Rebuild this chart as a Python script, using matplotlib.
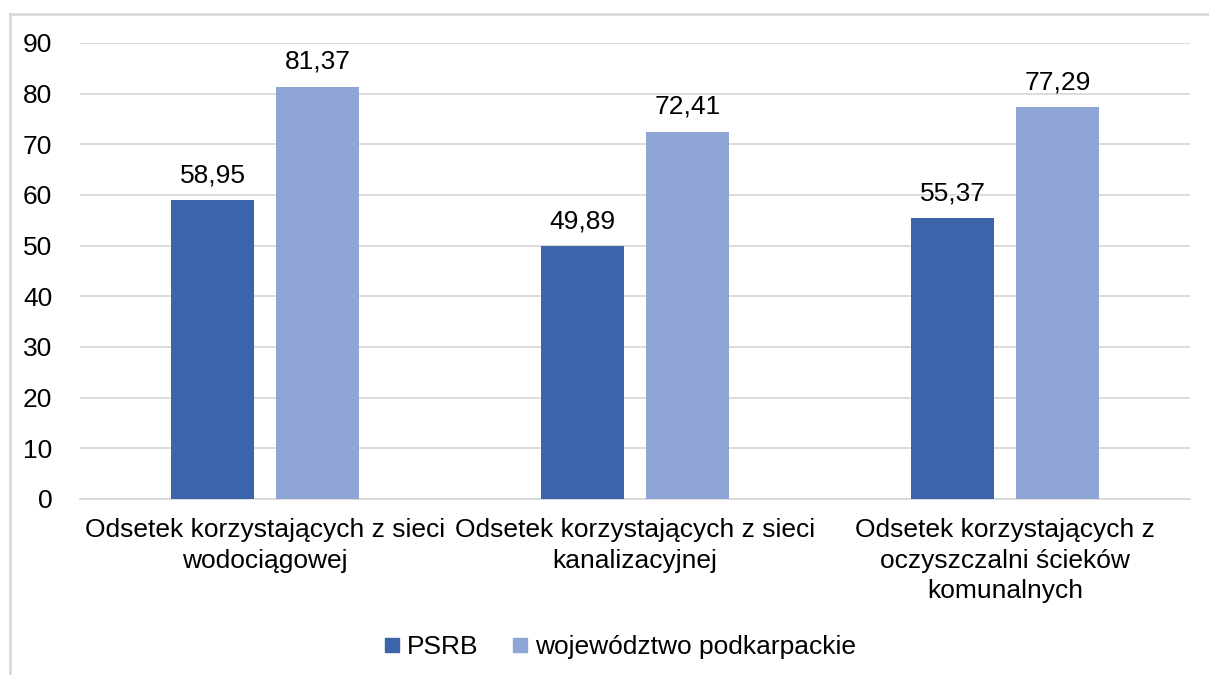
import matplotlib
matplotlib.use('Agg')
import matplotlib.pyplot as plt
import numpy as np
from matplotlib.lines import Line2D

plt.rcParams['font.family'] = ['Liberation Sans', 'DejaVu Sans']

categories = [
    'Odsetek korzystających z sieci\nwodociągowej',
    'Odsetek korzystających z sieci\nkanalizacyjnej',
    'Odsetek korzystających z\noczyszczalni ścieków\nkomunalnych',
]
psrb = [58.95, 49.89, 55.37]
podkarpackie = [81.37, 72.41, 77.29]
series_names = ['PSRB', 'województwo podkarpackie']
yticks = list(range(0, 100, 10))

dark = '#3C64AB'
light = '#8FA5D5'
grid_col = '#D9D9D9'
fs = 19

W, H = 1209, 675
fig = plt.figure(figsize=(W / 100, H / 100), dpi=100)
ax = fig.add_axes([80 / W, 1 - 499 / H, 1110 / W, 456 / H])

x = np.arange(len(categories))
bw = 0.224
off = 0.142
b1 = ax.bar(x - off, psrb, bw, color=dark, zorder=3)
b2 = ax.bar(x + off, podkarpackie, bw, color=light, zorder=3)

for bars, vals in ((b1, psrb), (b2, podkarpackie)):
    for r, v in zip(bars, vals):
        ax.text(r.get_x() + r.get_width() / 2, v + 2.6, f'{v:.2f}'.replace('.', ','),
                ha='center', va='bottom', fontsize=fs, color='#000000')

ax.set_xlim(-0.5, 2.5)
ax.set_ylim(0, 90)
ax.set_yticks(yticks)
ax.yaxis.grid(True, color=grid_col, linewidth=1.3, zorder=0)
ax.set_xticks(x)
ax.set_xticklabels(categories, fontsize=fs, linespacing=1.32)
ax.tick_params(axis='both', length=0, labelsize=fs, colors='#000000')
ax.tick_params(axis='y', pad=20)
ax.tick_params(axis='x', pad=14)
for s in ('top', 'right', 'left'):
    ax.spines[s].set_visible(False)
ax.spines['bottom'].set_color(grid_col)
ax.spines['bottom'].set_linewidth(1.3)

handles = [Line2D([], [], marker='s', linestyle='none', markersize=10, color=c)
           for c in (dark, light)]
fig.legend(handles, series_names, loc='center', bbox_to_anchor=(620 / W, 1 - 647 / H),
           ncol=2, frameon=False, fontsize=fs, handlelength=0.6, handletextpad=0.25,
           columnspacing=1.3)

# outer chart border (top and left visible)
fig.add_artist(Line2D([10 / W, 1], [1 - 14 / H, 1 - 14 / H], color=grid_col, linewidth=2,
                      transform=fig.transFigure))
fig.add_artist(Line2D([10 / W, 10 / W], [0, 1 - 14 / H], color=grid_col, linewidth=2,
                      transform=fig.transFigure))

fig.savefig('out.png', dpi=100)
